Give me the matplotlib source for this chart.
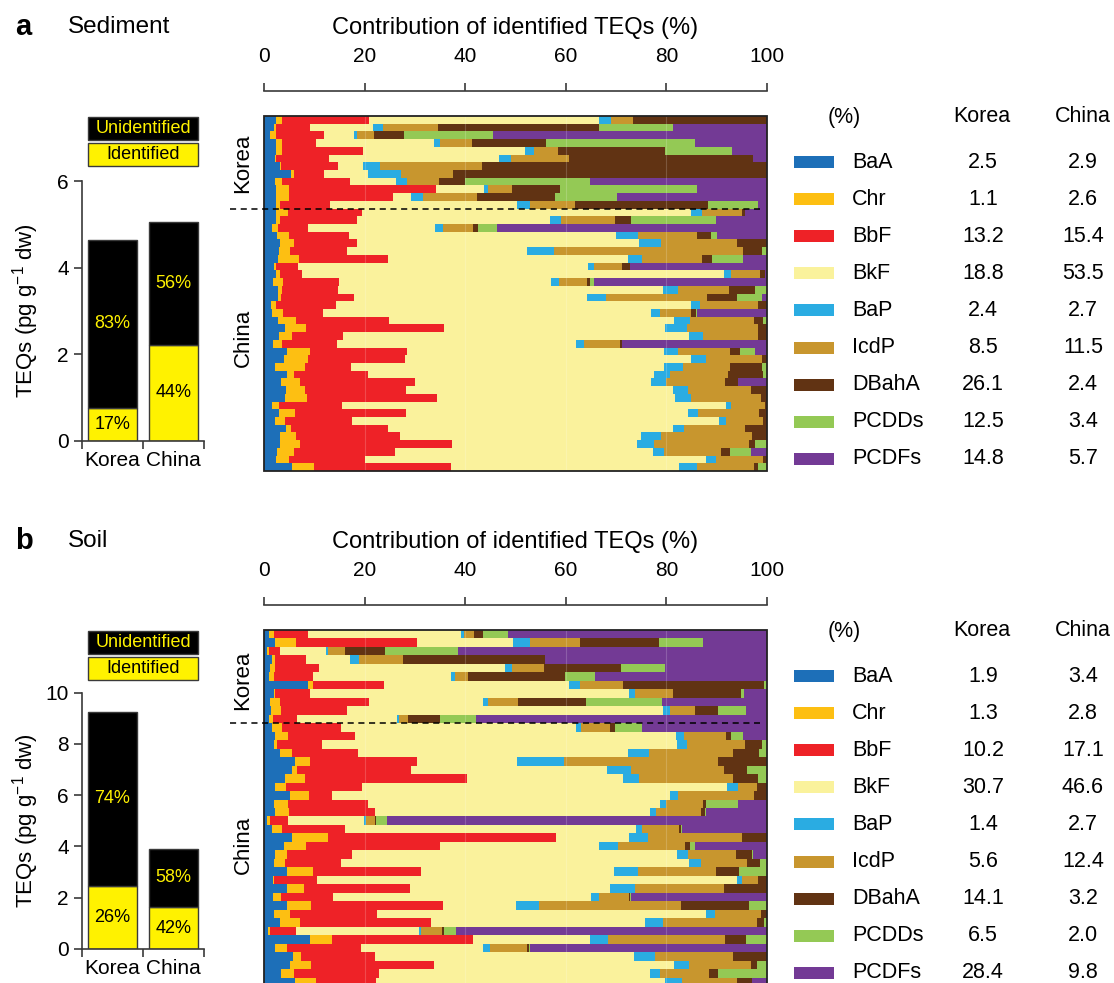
import numpy as np
import matplotlib
matplotlib.use('Agg')
import matplotlib.pyplot as plt
from matplotlib.patches import Rectangle
import matplotlib.transforms as mtransforms

plt.rcParams['font.family'] = ['Liberation Sans', 'DejaVu Sans']

# ---- data ----
components = ['BaA', 'Chr', 'BbF', 'BkF', 'BaP', 'IcdP', 'DBahA', 'PCDDs', 'PCDFs']
colors = ['#1D6FB8', '#FDBF12', '#EE2227', '#FAF29C', '#2AACE2',
          '#C8962E', '#613313', '#94C955', '#733A95']
countries = ['Korea', 'China']

# contribution (%) per sample, columns in order of components, top row first
sed_korea = [
    [2.3, 1.3, 17.2, 45.8, 2.5, 4.4, 26.6, 0, 0],
    [1.9, 0.4, 6.9, 12.5, 2.0, 11.0, 32.0, 14.8, 18.7],
    [1.1, 1.2, 9.7, 5.9, 0.7, 3.3, 6.0, 17.7, 54.7],
    [2.3, 1.3, 6.7, 23.5, 1.2, 6.5, 14.7, 29.8, 14.3],
    [2.3, 1.3, 16.1, 32.3, 1.9, 4.8, 21.2, 13.5, 6.9],
    [2.1, 0.3, 10.5, 33.9, 2.4, 11.7, 36.7, 0, 2.7],
    [3.1, 0.3, 11.3, 5.1, 3.3, 20.4, 56.8, 0, 0],
    [5.4, 0.5, 6.1, 8.7, 6.5, 10.5, 62.4, 0, 0],
    [2.1, 1.5, 13.5, 9.2, 2.1, 6.5, 5.1, 24.9, 35.3],
    [2.4, 2.5, 29.3, 9.6, 0.9, 4.8, 9.5, 27.3, 13.9],
    [2.3, 2.7, 20.7, 3.6, 2.5, 10.7, 15.5, 12.5, 29.9],
    [2.3, 0.9, 9.9, 37.2, 2.7, 8.9, 26.5, 10.1, 1.7],
]
sed_china = [
    [2.4, 2.3, 14.9, 65.6, 2.2, 8.0, 0.5, 0, 4.4],
    [2.4, 0.7, 15.5, 38.5, 2.1, 10.7, 3.2, 17.1, 10.1],
    [1.5, 1.3, 6.0, 25.3, 1.5, 6.0, 1.1, 3.8, 53.7],
    [2.5, 2.5, 11.9, 53.2, 4.5, 11.8, 2.7, 1.3, 9.9],
    [3.1, 2.9, 12.5, 56.3, 4.3, 15.3, 5.9, 0, 0],
    [2.9, 2.3, 11.3, 35.9, 5.3, 37.7, 3.9, 0.9, 0],
    [2.8, 4.1, 17.8, 47.8, 2.8, 12.1, 2.0, 6.2, 4.7],
    [1.9, 0.4, 4.5, 57.9, 1.1, 5.5, 1.7, 0, 27.3],
    [2.3, 0.9, 4.3, 84.2, 1.3, 5.9, 0.9, 0, 0.4],
    [1.7, 2.1, 11.2, 42.1, 1.7, 5.5, 0.7, 0.7, 34.5],
    [2.8, 0.8, 11.1, 64.9, 2.9, 10.3, 5.2, 2.3, 0],
    [2.7, 0.7, 14.5, 46.5, 3.7, 20.3, 5.9, 5.1, 0.9],
    [1.4, 0.9, 12.1, 70.7, 1.9, 11.6, 1.7, 0, 0],
    [1.5, 2.3, 7.9, 65.7, 1.7, 6.3, 0.9, 0.3, 13.9],
    [2.7, 3.7, 18.5, 56.8, 3.1, 12.9, 1.8, 0.7, 0],
    [4.1, 4.3, 27.5, 44.1, 4.5, 14.2, 1.7, 0, 0],
    [2.9, 2.7, 10.1, 69.1, 2.9, 11.0, 1.7, 0, 0],
    [1.7, 1.8, 11.1, 47.5, 1.6, 7.3, 0.3, 0, 28.9],
    [4.5, 4.7, 19.3, 51.1, 2.9, 10.3, 2.0, 3.1, 2.3],
    [3.9, 4.9, 19.3, 56.9, 3.0, 11.3, 0.9, 0, 0],
    [2.1, 6.1, 9.1, 62.3, 3.9, 9.3, 6.5, 0.9, 0],
    [4.5, 1.4, 14.8, 57.0, 3.2, 11.6, 7.0, 0.7, 0],
    [3.4, 3.7, 23.1, 47.1, 3.0, 11.7, 2.7, 0, 5.7],
    [4.4, 3.7, 20.2, 53.3, 2.9, 12.7, 3.1, 0, 0],
    [4.2, 4.4, 25.9, 47.5, 3.3, 13.9, 1.2, 0, 0],
    [1.5, 1.5, 12.5, 76.5, 0.9, 6.8, 0.4, 0, 0],
    [2.9, 3.3, 22.1, 56.3, 2.0, 12.2, 1.5, 0, 0],
    [2.1, 2.0, 13.4, 73.3, 1.3, 7.5, 0.7, 0, 0],
    [4.3, 1.0, 19.4, 56.7, 2.3, 12.1, 4.4, 0, 0],
    [3.1, 3.3, 20.8, 47.9, 4.0, 18.3, 2.9, 0, 0],
    [3.1, 4.1, 30.3, 36.9, 3.2, 19.1, 1.2, 2.3, 0],
    [2.5, 3.5, 20.0, 51.4, 2.3, 11.3, 1.9, 4.1, 3.2],
    [2.3, 2.6, 15.2, 68.1, 2.0, 9.4, 0.7, 0, 0],
    [5.6, 4.3, 27.3, 45.5, 3.7, 11.3, 0.9, 1.7, 0],
]
soil_korea = [
    [0.9, 1.1, 6.7, 30.5, 0.6, 2.0, 1.7, 5.1, 51.5],
    [2.1, 4.2, 24.3, 19.2, 3.2, 10.0, 15.8, 8.9, 12.7],
    [0.5, 0.5, 2.1, 9.2, 0.5, 3.3, 8.1, 14.5, 61.5],
    [1.6, 0.6, 6.1, 8.8, 1.9, 8.8, 28.2, 0, 44.3],
    [1.2, 1.0, 8.7, 37.1, 1.5, 6.3, 15.4, 8.6, 20.4],
    [0.9, 1.1, 7.7, 27.5, 0.9, 2.5, 19.4, 6.0, 34.3],
    [8.7, 1.0, 14.3, 36.7, 2.2, 8.7, 28.1, 0.5, 0],
    [1.9, 0.3, 6.9, 63.7, 1.1, 7.7, 13.5, 0.7, 4.5],
    [1.2, 2.0, 17.7, 22.7, 1.0, 6.1, 13.5, 15.1, 21.0],
    [1.3, 2.1, 13.1, 62.9, 1.5, 4.9, 4.7, 5.5, 4.2],
    [0.9, 0.8, 4.8, 20.0, 0.4, 1.8, 6.3, 7.2, 58.0],
]
soil_china = [
    [1.5, 2.1, 11.8, 46.9, 1.0, 5.6, 1.0, 5.5, 24.9],
    [2.2, 2.5, 13.5, 64.0, 1.5, 8.5, 0.9, 2.5, 4.7],
    [1.9, 0.7, 9.0, 70.9, 1.9, 11.7, 3.3, 1.0, 0],
    [3.1, 2.5, 13.2, 53.7, 4.3, 16.8, 5.2, 1.5, 0],
    [6.1, 3.0, 21.3, 20.0, 9.3, 30.8, 9.7, 0, 0],
    [5.5, 1.1, 22.7, 39.1, 4.7, 18.7, 4.5, 4.0, 0],
    [4.1, 4.0, 32.3, 31.1, 3.3, 18.7, 5.1, 1.7, 0],
    [2.1, 2.3, 15.1, 72.7, 2.3, 3.7, 2.0, 0, 0],
    [5.2, 3.7, 4.7, 67.4, 1.5, 15.3, 2.5, 0, 0],
    [1.9, 2.9, 16.0, 58.3, 1.1, 7.5, 0.6, 6.4, 5.7],
    [2.1, 2.8, 17.2, 54.8, 1.3, 8.9, 0.9, 0.2, 12.1],
    [0.5, 0.7, 3.5, 15.2, 0.3, 1.9, 0.1, 2.2, 75.5],
    [1.5, 2.1, 12.5, 58.1, 1.2, 7.4, 0.3, 0.2, 17.0],
    [5.6, 7.1, 45.5, 14.5, 3.8, 18.9, 4.9, 0, 0],
    [3.9, 4.5, 26.7, 31.7, 3.7, 13.5, 0.9, 1.1, 14.3],
    [2.1, 2.5, 12.9, 64.7, 2.3, 9.5, 3.2, 0.3, 2.7],
    [1.9, 2.2, 11.3, 69.3, 2.3, 9.3, 2.5, 1.4, 0],
    [4.6, 5.1, 21.5, 38.5, 4.8, 15.5, 4.7, 5.5, 0],
    [1.7, 0.3, 8.5, 83.9, 1.0, 3.2, 1.7, 0, 0],
    [4.5, 3.5, 21.0, 39.9, 5.0, 17.8, 8.5, 0, 0],
    [1.7, 1.7, 10.3, 51.5, 1.5, 6.0, 0.3, 0.2, 27.0],
    [4.6, 4.7, 26.3, 14.7, 4.5, 28.3, 13.7, 3.5, 0],
    [1.9, 3.2, 17.5, 65.7, 1.7, 9.2, 1.2, 0, 0],
    [3.2, 4.0, 26.1, 42.7, 3.5, 18.8, 1.5, 0.5, 0],
    [0.7, 0.5, 5.1, 24.5, 0.5, 4.0, 0.5, 2.3, 61.9],
    [9.1, 4.5, 28.0, 23.5, 3.5, 23.3, 4.2, 4.2, 0],
    [2.2, 2.4, 14.7, 24.3, 1.5, 7.3, 0.3, 0.2, 47.3],
    [5.7, 1.7, 14.8, 51.5, 4.2, 15.6, 6.7, 0, 0],
    [5.2, 4.1, 24.6, 47.9, 3.0, 12.5, 1.2, 1.9, 0],
    [3.3, 2.7, 16.9, 53.9, 2.1, 9.7, 1.9, 9.7, 0],
    [6.2, 4.2, 12.0, 57.5, 3.5, 11.0, 3.0, 0, 2.9],
]

# mean contributions shown in the tables
sed_mean_korea = ['2.5', '1.1', '13.2', '18.8', '2.4', '8.5', '26.1', '12.5', '14.8']
sed_mean_china = ['2.9', '2.6', '15.4', '53.5', '2.7', '11.5', '2.4', '3.4', '5.7']
soil_mean_korea = ['1.9', '1.3', '10.2', '30.7', '1.4', '5.6', '14.1', '6.5', '28.4']
soil_mean_china = ['3.4', '2.8', '17.1', '46.6', '2.7', '12.4', '3.2', '2.0', '9.8']

# TEQs (pg/g dw): total and identified part
sed_total = [4.65, 5.05]
sed_ident = [0.76, 2.22]
sed_ident_pct = ['17%', '44%']
sed_unid_pct = ['83%', '56%']
soil_total = [9.26, 3.92]
soil_ident = [2.47, 1.63]
soil_ident_pct = ['26%', '42%']
soil_unid_pct = ['74%', '58%']

W, H = 1114, 983
fig = plt.figure(figsize=(W / 100, H / 100), dpi=100)


def px_axes(x0, y0, x1, y1):
    return fig.add_axes([x0 / W, 1 - y1 / H, (x1 - x0) / W, (y1 - y0) / H])


ov = fig.add_axes([0, 0, 1, 1], zorder=5)
ov.set_xlim(0, W)
ov.set_ylim(H, 0)
ov.axis('off')

SPINE = '#3a3a3a'


def draw_panel(dy, letter, name, korea_rows, china_rows, bottom_px,
               total, ident, ipct, upct, ymax, ystep, mean_k, mean_c,
               korea_lab_y, china_lab_y):
    # panel letter + title
    ov.text(15, 35 + dy, letter, fontsize=21, fontweight='bold', va='baseline')
    ov.text(68, 33 + dy, name, fontsize=17.5, va='baseline')

    # ---- left: stacked TEQ bars ----
    y_top = 181 if ymax == 6 else 692.7
    y_bot = 441 if ymax == 6 else 949
    axl = px_axes(82, y_top, 204, y_bot)
    x = np.arange(len(countries))
    unid = np.array(total) - np.array(ident)
    axl.bar(x, ident, width=0.79, color='#FFF200', edgecolor=SPINE, lw=1)
    axl.bar(x, unid, bottom=ident, width=0.79, color='black', edgecolor=SPINE, lw=1)
    for i in range(len(x)):
        axl.text(x[i], ident[i] / 2, ipct[i], ha='center', va='center',
                 fontsize=13, color='black')
        axl.text(x[i], ident[i] + unid[i] / 2, upct[i], ha='center',
                 va='center', fontsize=13, color='#FFF200')
    axl.set_xlim(-0.5, 1.5)
    axl.set_ylim(0, ymax)
    axl.set_yticks(np.arange(0, ymax + 0.1, ystep))
    axl.set_xticks([-0.5, 0.5, 1.5])
    axl.set_xticklabels([])
    axl.set_xticks(x, minor=True)
    axl.set_xticklabels(countries, minor=True)
    axl.tick_params(axis='x', which='minor', length=0, labelsize=15, pad=7)
    axl.tick_params(axis='both', which='major', length=6, width=1.2,
                    color=SPINE, labelsize=15)
    for s in ['top', 'right']:
        axl.spines[s].set_visible(False)
    for s in ['left', 'bottom']:
        axl.spines[s].set_color(SPINE)
        axl.spines[s].set_linewidth(1.2)
    ycen = (y_top + y_bot) / 2
    ov.text(26, ycen, 'TEQs (pg g$^{\\mathregular{-1}}$ dw)', rotation=90,
            ha='center', va='center', fontsize=16)

    # legend boxes
    ov.add_patch(Rectangle((88, 117 + dy), 110, 23, facecolor='black',
                           edgecolor=SPINE, lw=1))
    ov.text(143, 128.5 + dy, 'Unidentified', color='#FFF200', fontsize=13,
            ha='center', va='center')
    ov.add_patch(Rectangle((88, 143 + dy), 110, 23, facecolor='#FFF200',
                           edgecolor=SPINE, lw=1))
    ov.text(143, 154.5 + dy, 'Identified', color='black', fontsize=13,
            ha='center', va='center')

    # ---- middle: per-sample composition ----
    rows = np.array(korea_rows + china_rows, dtype=float)
    rows = rows / rows.sum(axis=1, keepdims=True) * 100
    n = len(rows)
    axm = px_axes(264, 116 + dy, 767, bottom_px)
    ypos = np.arange(n)
    left = np.zeros(n)
    for j, comp in enumerate(components):
        axm.barh(ypos, rows[:, j], left=left, height=1.0, color=colors[j],
                 lw=0, zorder=2)
        left += rows[:, j]
    axm.vlines([20, 40, 60, 80], -0.5, n - 0.5, color='white', alpha=0.18,
               lw=0.8, zorder=3)
    axm.set_xlim(0, 100)
    axm.set_ylim(n - 0.5, -0.5)
    axm.set_yticks([])
    axm.xaxis.tick_top()
    axm.set_xticks(np.arange(0, 101, 20))
    axm.tick_params(axis='x', length=6, width=1.2, color=SPINE,
                    labelsize=15, pad=12)
    for s in ['left', 'right', 'bottom']:
        axm.spines[s].set_visible(False)
    axm.spines['top'].set_position(('outward', 18))
    axm.spines['top'].set_color(SPINE)
    axm.spines['top'].set_linewidth(1.2)
    axm.add_patch(Rectangle((0, 0), 1, 1, transform=axm.transAxes, fill=False,
                            edgecolor='#222222', lw=1.3, zorder=4, clip_on=False))
    nk = len(korea_rows)
    tr = mtransforms.blended_transform_factory(axm.transAxes, axm.transData)
    axm.plot([-0.068, 0.986], [nk - 0.5, nk - 0.5], color='black', lw=1.1,
             ls=(0, (4, 3)), transform=tr, clip_on=False, zorder=5)
    ov.text(515.5, 28 + dy, 'Contribution of identified TEQs (%)', fontsize=17,
            ha='center', va='center')
    ov.text(243, korea_lab_y, 'Korea', rotation=90, ha='center', va='center',
            fontsize=16)
    ov.text(243, china_lab_y, 'China', rotation=90, ha='center', va='center',
            fontsize=16)

    # ---- right: table of mean contributions ----
    ov.text(844, 117 + dy, '(%)', fontsize=15.5, ha='center', va='center')
    ov.text(982, 117 + dy, 'Korea', fontsize=15.5, ha='center', va='center')
    ov.text(1083, 117 + dy, 'China', fontsize=15.5, ha='center', va='center')
    for j, comp in enumerate(components):
        yc = 162 + dy + 37.1 * j
        ov.add_patch(Rectangle((794, yc - 6), 40, 12, facecolor=colors[j], lw=0))
        ov.text(852, yc, comp, fontsize=15.5, ha='left', va='center')
        ov.text(983, yc, mean_k[j], fontsize=15.5, ha='center', va='center')
        ov.text(1083, yc, mean_c[j], fontsize=15.5, ha='center', va='center')


draw_panel(0, 'a', 'Sediment', sed_korea, sed_china, 471,
           sed_total, sed_ident, sed_ident_pct, sed_unid_pct, 6, 2,
           sed_mean_korea, sed_mean_china, 163, 338)
draw_panel(514, 'b', 'Soil', soil_korea, soil_china, 986,
           soil_total, soil_ident, soil_ident_pct, soil_unid_pct, 10, 2,
           soil_mean_korea, soil_mean_china, 680, 845)

fig.savefig('out.png', dpi=100)
